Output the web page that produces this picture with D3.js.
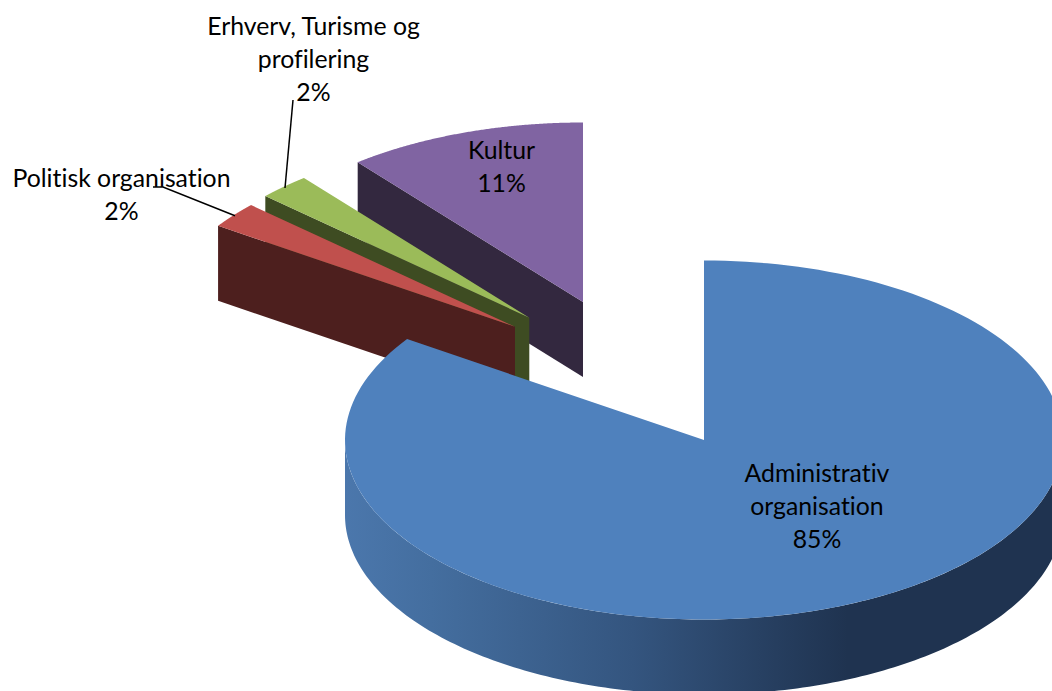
<!DOCTYPE html>
<html>
<head>
<meta charset="utf-8">
<script src="https://cdn.jsdelivr.net/npm/d3@7/dist/d3.min.js"></script>
<style>
html,body{margin:0;padding:0;background:#fff;overflow:hidden}
svg{display:block}
text{font-family:Lato,"Open Sans",sans-serif;font-size:24.8px;fill:#000;text-anchor:middle;font-variant-ligatures:none}
</style>
</head>
<body>
<svg id="chart" width="1052" height="691"></svg>
<script>
// Data: clockwise from 12 o'clock; labels round them.
const categories = ["Administrativ organisation", "Politisk organisation", "Erhverv, Turisme og profilering", "Kultur"];
const values = [84.5, 2.35, 2.35, 10.8];
const labelLines = [["Administrativ", "organisation"], ["Politisk organisation"], ["Erhverv, Turisme og", "profilering"], ["Kultur"]];

// Layout and style, separate from data
const width = 1052, height = 691;
const rx = 359, ry = 179.5, depth = 75;
const apexes = [[704, 440], [515, 326.7], [529.3, 317.7], [583, 302]];
const topColors = ["#4f81bd", "#c0504d", "#9bbb59", "#8064a2"];
const wallColors = ["#1f3350", "#4d1f1e", "#3e4c22", "#33283f"];
const labelAnchors = [[817, 482], [121.5, 187], [313.5, 35], [501.5, 159]];
const lineStep = 32.8;
const leaders = [null, [[153, 187], [163, 187], [235, 215.7]], [[293, 100], [285, 188]], null];

const svg = d3.select("#chart");
const grad = svg.append("defs").append("linearGradient")
  .attr("id", "mainWall").attr("gradientUnits", "userSpaceOnUse")
  .attr("x1", 345).attr("x2", 1063).attr("y1", 0).attr("y2", 0);
[[0, "#4b77ac"], [0.12, "#446e9f"], [0.4, "#34557f"], [0.6, "#263e5f"], [0.7, "#1f3350"], [1, "#1f3350"]]
  .forEach(([o, c]) => grad.append("stop").attr("offset", o).attr("stop-color", c));

const arcs = d3.pie().sort(null).startAngle(0).endAngle(2 * Math.PI)(values);
const line = d3.line();
const pt = (apex, a, dy = 0) => [apex[0] + rx * Math.sin(a), apex[1] - ry * Math.cos(a) + dy];
const sample = (a0, a1) => d3.range(0, 181).map(i => d3.interpolateNumber(a0, a1)(i / 180));

// Draw back to front: Kultur, Erhverv, Politisk, then the large slice.
[3, 2, 1, 0].forEach(i => {
  const arc = arcs[i], apex = apexes[i];
  const g = svg.append("g").attr("class", "slice");
  if (i === 0) {
    // outer rim: lower half of the ellipse
    const rim = sample(Math.PI / 2, 3 * Math.PI / 2);
    const pts = rim.map(a => pt(apex, a)).concat(rim.slice().reverse().map(a => pt(apex, a, depth)));
    g.append("path").attr("d", line(pts) + "Z").attr("fill", "url(#mainWall)");
  } else {
    // radial wall on the near (left) cut edge
    const c = pt(apex, arc.startAngle);
    const pts = [c, apex, [apex[0], apex[1] + depth], [c[0], c[1] + depth]];
    g.append("path").attr("d", line(pts) + "Z").attr("fill", wallColors[i]);
  }
  const face = [apex].concat(sample(arc.startAngle, arc.endAngle).map(a => pt(apex, a)));
  g.append("path").attr("d", line(face) + "Z").attr("fill", topColors[i]);
});

leaders.forEach(l => {
  if (l) svg.append("path").attr("d", line(l)).attr("fill", "none")
    .attr("stroke", "#000").attr("stroke-width", 1.5);
});

const pct = d3.format(".0f");
categories.forEach((c, i) => {
  const lines = labelLines[i].concat(pct(values[i]) + "%");
  const t = svg.append("text").attr("aria-label", c);
  lines.forEach((s, k) => t.append("tspan")
    .attr("x", labelAnchors[i][0])
    .attr("y", labelAnchors[i][1] + k * lineStep)
    .text(s));
});
</script>
</body>
</html>
